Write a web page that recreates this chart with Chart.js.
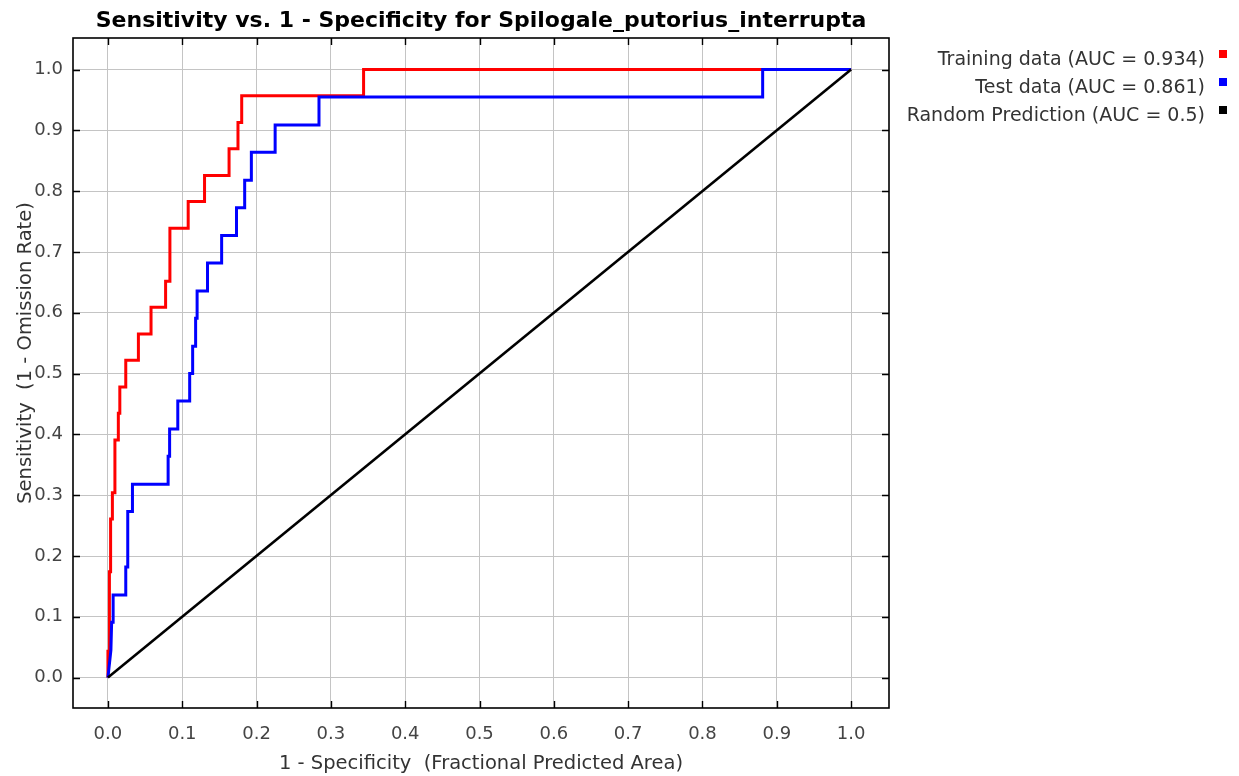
<!DOCTYPE html>
<html>
<head>
<meta charset="utf-8">
<script src="https://cdn.jsdelivr.net/npm/chart.js@4.4.1/dist/chart.umd.min.js"></script>
<style>
  html, body { margin: 0; padding: 0; background: #ffffff; }
  #wrap { position: relative; width: 1239px; height: 776px; }
  canvas { display: block; }
</style>
</head>
<body>
<div id="wrap"><canvas id="chart" width="1239" height="776"></canvas></div>
<script>
// ---------------- data ----------------
const chartTitle = 'Sensitivity vs. 1 - Specificity for Spilogale_putorius_interrupta';
const xAxisTitle = '1 - Specificity  (Fractional Predicted Area)';
const yAxisTitle = 'Sensitivity  (1 - Omission Rate)';

const tickValues = [0.0, 0.1, 0.2, 0.3, 0.4, 0.5, 0.6, 0.7, 0.8, 0.9, 1.0];
const tickLabels = ['0.0', '0.1', '0.2', '0.3', '0.4', '0.5', '0.6', '0.7', '0.8', '0.9', '1.0'];

const seriesNames = ['Training data (AUC = 0.934)', 'Test data (AUC = 0.861)', 'Random Prediction (AUC = 0.5)'];
const seriesColors = ['#ff0000', '#0000ff', '#000000'];

const trainingX = [0, 0, 0.002, 0.002, 0.0036, 0.0036, 0.006, 0.006, 0.0094, 0.0094, 0.014, 0.014, 0.016, 0.016, 0.024, 0.024, 0.041, 0.041, 0.058, 0.058, 0.0776, 0.0776, 0.0834, 0.0834, 0.108, 0.108, 0.130, 0.130, 0.163, 0.163, 0.175, 0.175, 0.180, 0.180, 0.344, 0.344, 1.0];
const trainingY = [0, 0.0435, 0.0435, 0.174, 0.174, 0.261, 0.261, 0.304, 0.304, 0.391, 0.391, 0.435, 0.435, 0.478, 0.478, 0.522, 0.522, 0.565, 0.565, 0.609, 0.609, 0.652, 0.652, 0.739, 0.739, 0.783, 0.783, 0.826, 0.826, 0.870, 0.870, 0.913, 0.913, 0.957, 0.957, 1.0, 1.0];

const testX = [0, 0.004, 0.005, 0.007, 0.007, 0.024, 0.024, 0.026, 0.026, 0.027, 0.027, 0.033, 0.033, 0.081, 0.081, 0.083, 0.083, 0.094, 0.094, 0.110, 0.110, 0.114, 0.114, 0.118, 0.118, 0.120, 0.120, 0.134, 0.134, 0.153, 0.153, 0.173, 0.173, 0.184, 0.184, 0.193, 0.193, 0.225, 0.225, 0.284, 0.284, 0.881, 0.881, 1.0];
const testY = [0, 0.045, 0.091, 0.091, 0.136, 0.136, 0.182, 0.182, 0.227, 0.227, 0.273, 0.273, 0.318, 0.318, 0.364, 0.364, 0.409, 0.409, 0.455, 0.455, 0.5, 0.5, 0.545, 0.545, 0.591, 0.591, 0.636, 0.636, 0.682, 0.682, 0.727, 0.727, 0.773, 0.773, 0.818, 0.818, 0.864, 0.864, 0.909, 0.909, 0.955, 0.955, 1.0, 1.0];

const randomX = [0, 1];
const randomY = [0, 1];

// ---------------- helpers ----------------
const FONT = "'DejaVu Sans', sans-serif";
function toPoints(xs, ys) { return xs.map((x, i) => ({ x: x, y: ys[i] })); }

const frameAndText = {
  id: 'frameAndText',
  beforeDraw(chart) {
    const ctx = chart.ctx;
    ctx.save();
    ctx.fillStyle = '#ffffff';
    ctx.fillRect(0, 0, chart.width, chart.height);
    ctx.restore();
  },
  afterDraw(chart) {
    const ctx = chart.ctx;
    const a = chart.chartArea;
    const xs = chart.scales.x, ys = chart.scales.y;
    ctx.save();
    // frame
    ctx.strokeStyle = '#000000';
    ctx.lineWidth = 1.6;
    ctx.strokeRect(a.left, a.top, a.right - a.left, a.bottom - a.top);
    // inward tick marks
    const tl = 7;
    ctx.lineWidth = 1.4;
    ctx.beginPath();
    tickValues.forEach(v => {
      const px = Math.round(xs.getPixelForValue(v)) + 0.5;
      ctx.moveTo(px, a.bottom); ctx.lineTo(px, a.bottom - tl);
      ctx.moveTo(px, a.top); ctx.lineTo(px, a.top + tl);
      const py = Math.round(ys.getPixelForValue(v)) + 0.5;
      ctx.moveTo(a.left, py); ctx.lineTo(a.left + tl, py);
      ctx.moveTo(a.right, py); ctx.lineTo(a.right - tl, py);
    });
    ctx.stroke();

    // chart title
    ctx.fillStyle = '#000000';
    ctx.font = "bold 22px " + FONT;
    ctx.textAlign = 'center';
    ctx.textBaseline = 'alphabetic';
    ctx.fillText(chartTitle, (a.left + a.right) / 2, a.top - 11);

    // axis titles
    ctx.fillStyle = '#333333';
    ctx.font = "19.5px " + FONT;
    ctx.fillText(xAxisTitle, (a.left + a.right) / 2, a.bottom + 61);
    ctx.save();
    ctx.translate(31, a.top + 315);
    ctx.rotate(-Math.PI / 2);
    ctx.fillText(yAxisTitle, 0, 0);
    ctx.restore();

    // legend (right side, text right-aligned, swatch after text)
    ctx.font = "19px " + FONT;
    ctx.textAlign = 'right';
    seriesNames.forEach((name, i) => {
      const base = a.top + 27 + i * 28;
      ctx.fillStyle = '#333333';
      ctx.fillText(name, a.right + 316, base);
      ctx.fillStyle = seriesColors[i];
      ctx.fillRect(a.right + 330, base - 15, 8, 8);
    });
    ctx.restore();
  }
};

const chart = new Chart(document.getElementById('chart'), {
  type: 'scatter',
  data: {
    datasets: [
      { label: seriesNames[2], data: toPoints(randomX, randomY), borderColor: seriesColors[2], borderWidth: 2.6, showLine: true, pointRadius: 0, fill: false, tension: 0 },
      { label: seriesNames[1], data: toPoints(testX, testY), borderColor: seriesColors[1], borderWidth: 3, showLine: true, pointRadius: 0, fill: false, tension: 0 },
      { label: seriesNames[0], data: toPoints(trainingX, trainingY), borderColor: seriesColors[0], borderWidth: 3, showLine: true, pointRadius: 0, fill: false, tension: 0 }
    ]
  },
  options: {
    responsive: false,
    animation: false,
    devicePixelRatio: 1,
    layout: { padding: { top: 38, right: 350, left: 0, bottom: 0 } },
    plugins: { legend: { display: false }, title: { display: false }, tooltip: { enabled: false } },
    scales: {
      x: {
        type: 'linear',
        min: -0.047,
        max: 1.051,
        afterBuildTicks: s => { s.ticks = tickValues.map(v => ({ value: v })); },
        afterFit: s => { s.height = 68; },
        grid: { color: '#c4c4c4', lineWidth: 1, drawTicks: false },
        border: { display: false },
        ticks: {
          padding: 16,
          autoSkip: false,
          maxRotation: 0,
          color: '#444444',
          font: { family: FONT, size: 18 },
          callback: (v, i) => tickLabels[i]
        }
      },
      y: {
        type: 'linear',
        min: -0.05,
        max: 1.052,
        afterBuildTicks: s => { s.ticks = tickValues.map(v => ({ value: v })); },
        afterFit: s => { s.width = 73; },
        grid: { color: '#c4c4c4', lineWidth: 1, drawTicks: false },
        border: { display: false },
        ticks: {
          padding: 10,
          autoSkip: false,
          color: '#444444',
          font: { family: FONT, size: 18 },
          callback: (v, i) => tickLabels[i]
        }
      }
    }
  },
  plugins: [frameAndText]
});
</script>
</body>
</html>
